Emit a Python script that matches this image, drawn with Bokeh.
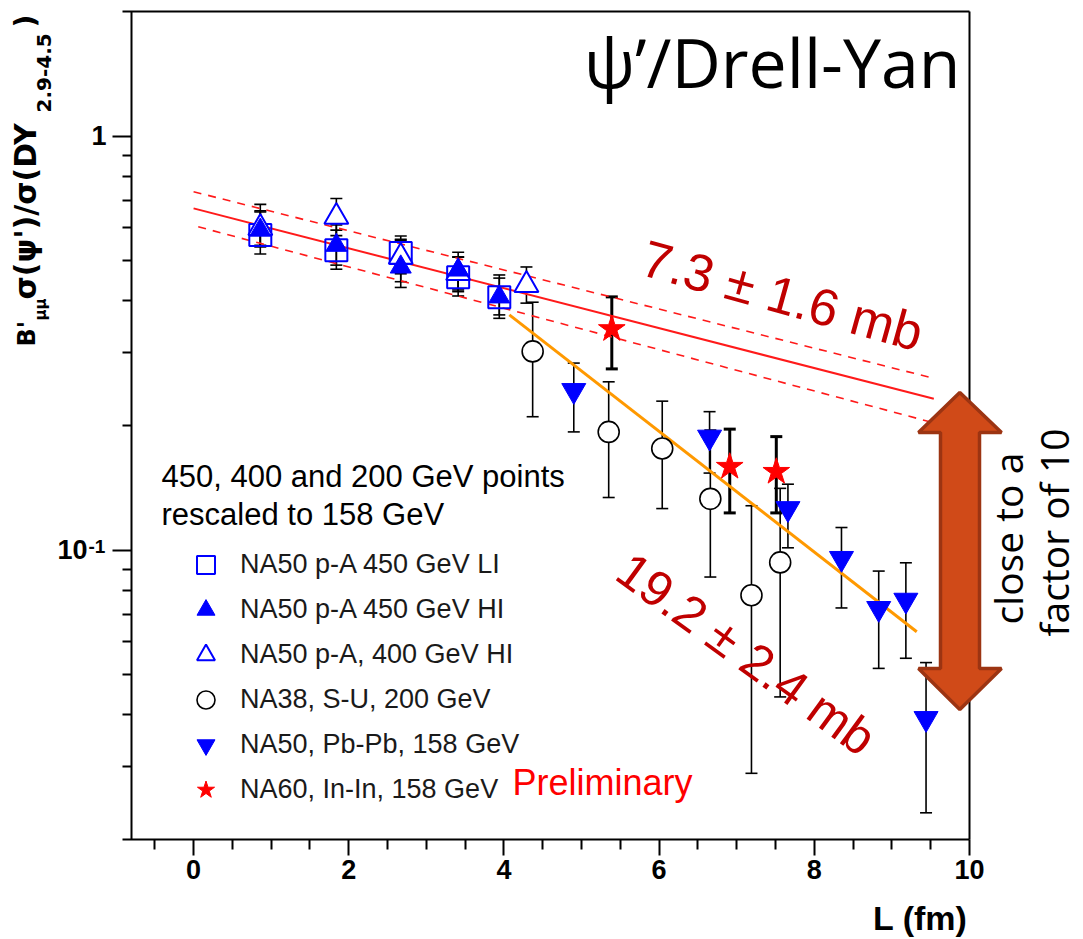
import math
from bokeh.plotting import figure
from bokeh.models import (ColumnDataSource, Whisker, TeeHead, FixedTicker, Label,
                          Legend, LegendItem, PolyAnnotation)
from bokeh.embed import file_html
from bokeh.resources import INLINE

# ---------------- data ----------------
li_L = [0.86, 1.84, 2.67, 3.41, 3.94]
li_R = [0.577, 0.530, 0.522, 0.456, 0.408]
li_lo = [0.540, 0.488, 0.445, 0.421, 0.370]
li_hi = [0.656, 0.593, 0.563, 0.511, 0.454]

hi_L = [0.86, 1.84, 2.67, 3.41, 3.94]
hi_R = [0.593, 0.545, 0.483, 0.475, 0.409]
hi_lo = [0.519, 0.477, 0.431, 0.411, 0.363]
hi_hi = [0.684, 0.610, 0.574, 0.524, 0.462]

h4_L = [0.86, 1.84, 2.67, 3.41, 4.29]
h4_R = [0.600, 0.638, 0.511, 0.467, 0.437]
h4_lo = [0.545, 0.575, 0.465, 0.425, 0.395]
h4_hi = [0.660, 0.707, 0.560, 0.510, 0.483]

su_L = [4.37, 5.35, 6.04, 6.66, 7.19, 7.56]
su_R = [0.302, 0.193, 0.176, 0.133, 0.0778, 0.0934]
su_lo = [0.210, 0.134, 0.126, 0.0861, 0.0289, 0.0442]
su_hi = [0.397, 0.255, 0.229, 0.195, 0.128, 0.141]

pb_L = [4.90, 6.65, 7.66, 8.35, 8.83, 9.18, 9.44]
pb_R = [0.243, 0.1875, 0.126, 0.0955, 0.0723, 0.0757, 0.0392]
pb_lo = [0.193, 0.1535, 0.1013, 0.0725, 0.0518, 0.0548, 0.0232]
pb_hi = [0.283, 0.216, 0.1443, 0.1134, 0.0890, 0.0932, 0.0535]

in_L = [5.39, 6.91, 7.51]
in_R = [0.342, 0.159, 0.1546]
in_lo = [0.274, 0.123, 0.123]
in_hi = [0.409, 0.196, 0.188]

fit73_L = [0.0, 9.54]
fit73_R = [0.669, 0.232]
fit73_up_L = [0.0, 9.54]
fit73_up_R = [0.734, 0.260]
fit73_dn_L = [0.06, 9.54]
fit73_dn_R = [0.604, 0.203]
fit192_L = [4.07, 9.32]
fit192_R = [0.370, 0.0635]

x_major = [0, 2, 4, 6, 8, 10]
x_minor = [-0.5, 0.5, 1, 1.5, 2.5, 3, 3.5, 4.5, 5, 5.5, 6.5, 7, 7.5, 8.5, 9, 9.5]
y_major = [0.1, 1]
y_minor = [0.03, 0.04, 0.05, 0.06, 0.07, 0.08, 0.09,
           0.2, 0.3, 0.4, 0.5, 0.6, 0.7, 0.8, 0.9]
y_labels = {0.1: "10\u2002\u2009", 1: "1"}
y_exp = "-1"

legend_labels = ["NA50 p-A 450 GeV LI", "NA50 p-A 450 GeV HI", "NA50 p-A, 400 GeV HI",
                 "NA38, S-U, 200 GeV", "NA50, Pb-Pb, 158 GeV", "NA60, In-In, 158 GeV"]

# ---------------- geometry ----------------
X0, X1 = -0.8, 10.0          # axis extent
Y0, Y1 = 0.02, 2.0
FL, FT, FW, FH = 131, 11, 838, 828   # axis box in page pixels
W, H = 1083, 939


def dx(px):
    return X0 + (px - FL) / FW * (X1 - X0)


def dy(py):
    ly1, ly0 = math.log10(Y1), math.log10(Y0)
    return 10 ** (ly1 - (py - FT) / FH * (ly1 - ly0))


# the frame covers the whole page; axes are pinned at the box edges
p = figure(width=W, height=H, x_range=(dx(0), dx(W)), y_range=(dy(H), dy(0)),
           y_axis_type="log", output_backend="svg", toolbar_location=None,
           min_border=0)
p.background_fill_color = "white"
p.border_fill_color = "white"
p.outline_line_color = None
p.xgrid.visible = False
p.ygrid.visible = False

p.xaxis.fixed_location = Y0
p.yaxis.fixed_location = X0
p.xaxis.bounds = (dx(122), X1)
p.yaxis.bounds = (Y0, Y1)
p.xaxis.ticker = FixedTicker(ticks=x_major, minor_ticks=x_minor)
p.yaxis.ticker = FixedTicker(ticks=y_major, minor_ticks=y_minor)
p.yaxis.major_label_overrides = y_labels
for ax in (p.xaxis[0], p.yaxis[0]):
    ax.axis_line_width = 2
    ax.axis_line_color = "black"
    ax.major_tick_line_width = 2
    ax.minor_tick_line_width = 2
    ax.major_tick_in = 0
    ax.minor_tick_in = 0
    ax.major_label_text_font = "Liberation Sans"
    ax.major_label_text_font_style = "bold"
    ax.major_label_text_font_size = "27px"
    ax.major_label_text_color = "black"
p.xaxis.major_tick_out = 16
p.xaxis.minor_tick_out = 10
p.xaxis.major_label_standoff = 4
p.yaxis.major_tick_out = 19
p.yaxis.minor_tick_out = 9
p.yaxis.major_label_standoff = 6

# top and right sides of the box
p.line([dx(122), X1], [Y1, Y1], line_color="black", line_width=2)
p.line([X1, X1], [Y0, Y1], line_color="black", line_width=2)

# fit lines
p.line(fit73_L, fit73_R, line_color="#FF1A1A", line_width=2)
p.line(fit73_up_L, fit73_up_R, line_color="#FF1A1A", line_width=1.6, line_dash="8 7")
p.line(fit73_dn_L, fit73_dn_R, line_color="#FF1A1A", line_width=1.6, line_dash="8 7")


def errs(L, lo, hi, width=1.6):
    src = ColumnDataSource(dict(x=L, lower=lo, upper=hi))
    w = Whisker(base="x", lower="lower", upper="upper", source=src,
                line_color="black", line_width=width,
                upper_head=TeeHead(size=12, line_width=width, line_color="black"),
                lower_head=TeeHead(size=12, line_width=width, line_color="black"))
    p.add_layout(w)


errs(li_L, li_lo, li_hi)
errs(hi_L, hi_lo, hi_hi)
errs(h4_L, h4_lo, h4_hi)
errs(su_L, su_lo, su_hi)
errs(pb_L, pb_lo, pb_hi)
errs(in_L, in_lo, in_hi, width=3)

p.line(fit192_L, fit192_R, line_color="#FF9900", line_width=3)

r_su = p.scatter(su_L, su_R, marker="circle", size=21, line_color="black",
                 line_width=1.6, fill_color="white")
r_li = p.scatter(li_L, li_R, marker="square", size=22, line_color="#0000FF",
                 line_width=2, fill_color="white", fill_alpha=0.0)
r_h4 = p.scatter(h4_L, h4_R, marker="triangle", size=24, line_color="#0000FF",
                 line_width=2, fill_color="white")
r_hi = p.scatter(hi_L, hi_R, marker="triangle", size=21, line_color="#0000FF",
                 fill_color="#0000FF")
r_pb = p.scatter(pb_L, pb_R, marker="inverted_triangle", size=24, line_color="#0000FF",
                 fill_color="#0000FF")
r_in = p.scatter(in_L, in_R, marker="star", size=28, line_color="#FF0000",
                 fill_color="#FF0000")

legend = Legend(items=[LegendItem(label=legend_labels[0], renderers=[r_li]),
                       LegendItem(label=legend_labels[1], renderers=[r_hi]),
                       LegendItem(label=legend_labels[2], renderers=[r_h4]),
                       LegendItem(label=legend_labels[3], renderers=[r_su]),
                       LegendItem(label=legend_labels[4], renderers=[r_pb]),
                       LegendItem(label=legend_labels[5], renderers=[r_in])],
                location=(FL + 52, H - (FT + FH) + 27), orientation="vertical",
                glyph_width=45, glyph_height=45, label_height=45, spacing=0,
                padding=0, margin=0, label_standoff=12,
                label_text_font="Liberation Sans", label_text_font_size="27px",
                label_text_color="#1a1a1a", border_line_color=None,
                background_fill_alpha=0.0)
p.add_layout(legend)

# big double arrow
ax_px = [959.3, 1001, 979, 979, 1001, 959.3, 918, 940, 940, 918]
ay_px = [392, 432, 432, 668, 668, 709, 668, 668, 432, 432]
p.add_layout(PolyAnnotation(xs=[dx(v) for v in ax_px], ys=[dy(v) for v in ay_px],
                            fill_color="#D04A18", fill_alpha=1.0,
                            line_color="#9C3412", line_width=3.5, line_alpha=1.0))

KMID = {"Liberation Sans": 0.35, "DejaVu Sans": 0.346, "Open Sans": 0.388}


def lab(text, px, py, size, color="black", font="Liberation Sans", style="normal",
        align="left", angle=0.0):
    # (px, py): baseline point in page pixels; converted to the text's middle
    k = KMID[font] * size
    cx = px + k * (-math.sin(angle))
    cy = py + k * (-math.cos(angle))
    p.add_layout(Label(x=dx(cx), y=dy(cy), text=text, text_font=font,
                       text_font_size=f"{size}px", text_font_style=style,
                       text_color=color, text_align=align, text_baseline="middle",
                       angle=angle, angle_units="rad"))


# exponent of the 10^-1 tick label
lab(y_exp, 88, 553, 19, style="bold")

lab("\u03c8\u2019/Drell-Yan", 960, 87, 68, font="Open Sans", align="right")
lab("7.3 \u00b1 1.6 mb", 638, 274, 52, color="#C00000", angle=-15.5 * math.pi / 180)
lab("19.2 \u00b1 2.4 mb", 612, 578, 50, color="#C00000", angle=-36 * math.pi / 180)
lab("450, 400 and 200 GeV points", 161, 487, 31)
lab("rescaled to 158 GeV", 161, 525, 31)
lab("Preliminary", 512, 795, 36, color="#FF0000")
lab("close to a", 1022, 538, 39, font="Open Sans", align="center", angle=math.pi / 2)
lab("factor of 10", 1068, 532, 39, font="Open Sans", align="center", angle=math.pi / 2)
lab("L (fm)", 967, 929, 34, style="bold", align="right")

# y-axis title in pieces (rotated)
lab("B'", 35, 346, 24, font="DejaVu Sans", style="bold", angle=math.pi / 2)
lab("\u03bc\u03bc", 46, 320, 15, font="DejaVu Sans", style="bold", angle=math.pi / 2)
lab("\u03c3(\u03c8')/\u03c3(DY", 35, 299, 30, font="DejaVu Sans", style="bold", angle=math.pi / 2)
lab("2.9-4.5", 50, 112, 20, font="DejaVu Sans", style="bold", angle=math.pi / 2)
lab(")", 35, 27, 28, font="DejaVu Sans", style="bold", angle=math.pi / 2)

open("out.html", "w").write(file_html(p, INLINE))
